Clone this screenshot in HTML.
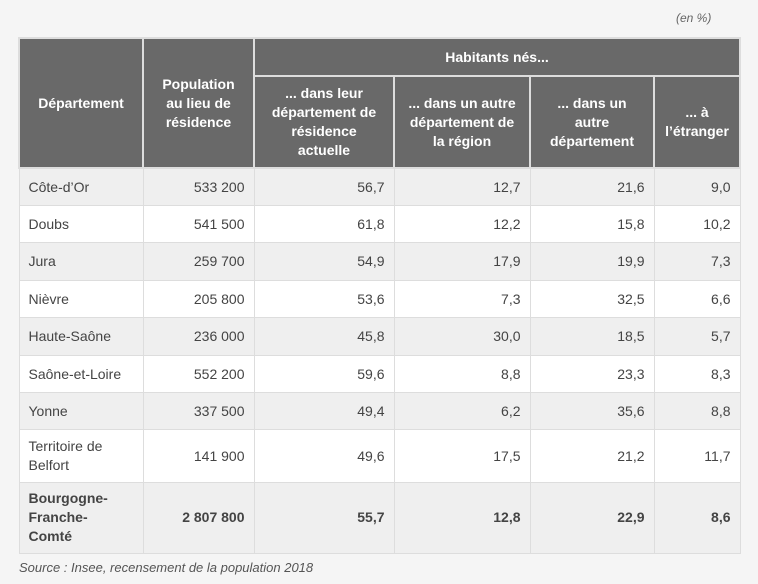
<!DOCTYPE html>
<html><head><meta charset="utf-8"><style>
body{margin:0;background:#f5f5f5;width:758px;height:584px;overflow:hidden;font-family:"Liberation Sans",sans-serif;color:#444;position:relative}
.note{position:absolute;top:11px;left:676px;font-size:12px;font-style:italic;color:#666}
table{position:absolute;left:18px;top:37px;border-collapse:collapse;table-layout:fixed;font-size:14px}
td,th{border:1px solid #ddd;padding:0 9px;box-sizing:border-box}
th{background:#696969;color:#fff;font-weight:bold;text-align:center;border:2px solid #ddd;line-height:19px;font-size:14px}
td{text-align:right}
td:first-child{text-align:left}
tr.o td{background:#efefef}
tr.e td{background:#fff}
tr.b td{font-weight:bold;background:#efefef;line-height:19px}
.src{position:absolute;left:19px;top:560px;font-size:13px;font-style:italic;color:#555}
</style></head><body>
<div class="note">(en %)</div>
<table>
<colgroup><col style="width:124px"><col style="width:111px"><col style="width:140px"><col style="width:136px"><col style="width:124px"><col style="width:86px"></colgroup>
<tr style="height:38px"><th rowspan="2">Département</th><th rowspan="2">Population au lieu de résidence</th><th colspan="4">Habitants nés...</th></tr>
<tr style="height:92px"><th>... dans leur département de résidence actuelle</th><th>... dans un autre département de la région</th><th>... dans un autre département</th><th>... à l’étranger</th></tr>
<tr class="o" style="height:37px"><td>Côte-d’Or</td><td>533 200</td><td>56,7</td><td>12,7</td><td>21,6</td><td>9,0</td></tr>
<tr class="e" style="height:37px"><td>Doubs</td><td>541 500</td><td>61,8</td><td>12,2</td><td>15,8</td><td>10,2</td></tr>
<tr class="o" style="height:38px"><td>Jura</td><td>259 700</td><td>54,9</td><td>17,9</td><td>19,9</td><td>7,3</td></tr>
<tr class="e" style="height:37px"><td>Nièvre</td><td>205 800</td><td>53,6</td><td>7,3</td><td>32,5</td><td>6,6</td></tr>
<tr class="o" style="height:38px"><td>Haute-Saône</td><td>236 000</td><td>45,8</td><td>30,0</td><td>18,5</td><td>5,7</td></tr>
<tr class="e" style="height:37px"><td>Saône-et-Loire</td><td>552 200</td><td>59,6</td><td>8,8</td><td>23,3</td><td>8,3</td></tr>
<tr class="o" style="height:37px"><td>Yonne</td><td>337 500</td><td>49,4</td><td>6,2</td><td>35,6</td><td>8,8</td></tr>
<tr class="e" style="height:53px"><td style="line-height:19px">Territoire de<br>Belfort</td><td>141 900</td><td>49,6</td><td>17,5</td><td>21,2</td><td>11,7</td></tr>
<tr class="b" style="height:71px"><td>Bourgogne-<br>Franche-<br>Comté</td><td>2 807 800</td><td>55,7</td><td>12,8</td><td>22,9</td><td>8,6</td></tr>
</table>
<div class="src">Source : Insee, recensement de la population 2018</div>
</body></html>
